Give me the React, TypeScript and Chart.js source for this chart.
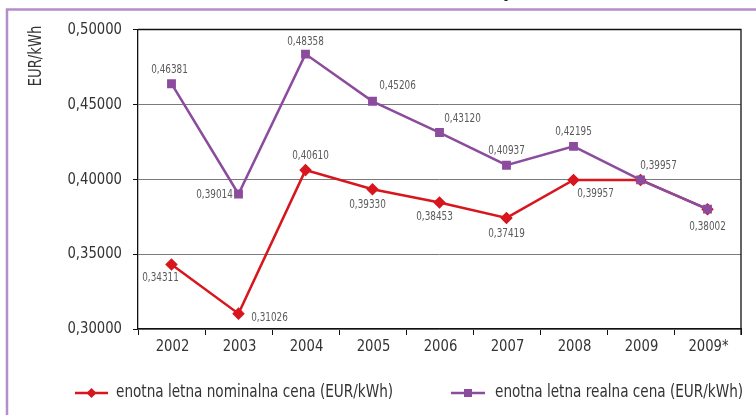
import React, { useEffect, useRef } from "react";
import { Chart, registerables } from "chart.js";

Chart.register(...registerables);

const categories = ["2002", "2003", "2004", "2005", "2006", "2007", "2008", "2009", "2009*"];
const nominalValues = [0.34311, 0.31026, 0.4061, 0.3933, 0.38453, 0.37419, 0.39957, 0.39957, 0.38002];
const realValues = [0.46381, 0.39014, 0.48358, 0.45206, 0.4312, 0.40937, 0.42195, 0.39957, 0.38002];
const nominalLabel = "enotna letna nominalna cena (EUR/kWh)";
const realLabel = "enotna letna realna cena (EUR/kWh)";
const yTitle = "EUR/kWh";
const yMin = 0.3;
const yMax = 0.5;
const yStep = 0.05;

// label offsets [dx, dy] relative to point (style only); null = no label
const nominalLabelOffsets: ([number, number] | null)[] = [
  [-11, 13], [31, 4], [5, -14], [-5, 16], [-5, 14], [0, 16], [22, 14], null, null,
];
const realLabelOffsets: ([number, number] | null)[] = [
  [-2, -14], [-24, 1], [0, -12], [25, -15], [23, -14], [0, -14], [0, -15], [18, -14], [0, 18],
];

const RED = "#d7161e";
const PURPLE = "#8c4c9e";
const FONT = "'DejaVu Sans Condensed', 'Liberation Sans Narrow', sans-serif";

const fmt = (v: number) => v.toFixed(5).replace(".", ",");

function drawText(ctx: any, text: string, x: number, y: number, align: string, sx: number) {
  ctx.save();
  ctx.translate(x, y);
  ctx.scale(sx, 1);
  ctx.textAlign = align;
  ctx.fillText(text, 0, 0);
  ctx.restore();
}

const decorPlugin = {
  id: "decor",
  beforeDraw(chart: any) {
    const ctx = chart.ctx;
    ctx.save();
    ctx.fillStyle = "#ffffff";
    ctx.fillRect(0, 0, chart.width, chart.height);
    // frame
    ctx.strokeStyle = "#b68cca";
    ctx.lineWidth = 2.5;
    ctx.beginPath();
    ctx.moveTo(7, chart.height);
    ctx.lineTo(7, 9.5);
    ctx.lineTo(chart.width, 9.5);
    ctx.stroke();
    // cut-off title descender
    ctx.fillStyle = "#222";
    ctx.font = "bold 16px " + FONT;
    ctx.textBaseline = "alphabetic";
    ctx.fillText("y", 503, -2.5);
    ctx.restore();
  },
  afterDraw(chart: any) {
    const ctx = chart.ctx;
    const area = chart.chartArea;
    ctx.save();
    // top & right borders of plot
    ctx.strokeStyle = "#111";
    ctx.lineWidth = 1.3;
    ctx.beginPath();
    ctx.moveTo(area.left, area.top);
    ctx.lineTo(area.right, area.top);
    ctx.lineTo(area.right, area.bottom + 6);
    ctx.stroke();

    ctx.textBaseline = "middle";

    // axis tick labels
    ctx.font = "16.5px " + FONT;
    ctx.fillStyle = "#333";
    const ys = chart.scales.y;
    ys.ticks.forEach((t: any) => {
      drawText(ctx, fmt(t.value), 122, ys.getPixelForValue(t.value), "right", 0.89);
    });
    const xs = chart.scales.x;
    categories.forEach((c, i) => {
      drawText(ctx, c, xs.getPixelForValue(i) + 1, area.bottom + 18, "center", 0.89);
    });

    // data labels
    ctx.font = "12px " + FONT;
    ctx.fillStyle = "#5a5a5a";
    const drawLabels = (dsIndex: number, values: number[], offs: ([number, number] | null)[]) => {
      const meta = chart.getDatasetMeta(dsIndex);
      meta.data.forEach((pt: any, i: number) => {
        const o = offs[i];
        if (!o) return;
        drawText(ctx, fmt(values[i]), pt.x + o[0], pt.y + o[1], "center", 0.82);
      });
    };
    drawLabels(0, nominalValues, nominalLabelOffsets);
    drawLabels(1, realValues, realLabelOffsets);

    // y title
    ctx.save();
    ctx.translate(37, 56);
    ctx.rotate(-Math.PI / 2);
    ctx.font = "17px " + FONT;
    ctx.fillStyle = "#333";
    drawText(ctx, yTitle, 0, 0, "center", 0.86);
    ctx.restore();

    // legend
    const ly = 393;
    ctx.lineWidth = 2.5;
    ctx.strokeStyle = RED;
    ctx.beginPath();
    ctx.moveTo(75, ly);
    ctx.lineTo(108, ly);
    ctx.stroke();
    ctx.fillStyle = RED;
    ctx.beginPath();
    ctx.moveTo(91.5, ly - 5);
    ctx.lineTo(96.5, ly);
    ctx.lineTo(91.5, ly + 5);
    ctx.lineTo(86.5, ly);
    ctx.closePath();
    ctx.fill();

    ctx.strokeStyle = PURPLE;
    ctx.beginPath();
    ctx.moveTo(451, ly);
    ctx.lineTo(485, ly);
    ctx.stroke();
    ctx.fillStyle = PURPLE;
    ctx.fillRect(464, ly - 4, 8, 8);

    ctx.font = "17px " + FONT;
    ctx.fillStyle = "#333";
    drawText(ctx, nominalLabel, 116, ly, "left", 0.89);
    drawText(ctx, realLabel, 495, ly, "left", 0.89);
    ctx.restore();
  },
};

export default function App() {
  const canvasRef = useRef<HTMLCanvasElement | null>(null);

  useEffect(() => {
    document.body.style.margin = "0";
    const canvas = canvasRef.current;
    if (!canvas) return;
    const chart = new Chart(canvas, {
      type: "line",
      data: {
        labels: categories,
        datasets: [
          {
            label: nominalLabel,
            data: nominalValues,
            borderColor: RED,
            backgroundColor: RED,
            borderWidth: 2.5,
            pointStyle: "rectRot",
            pointRadius: 4.5,
            pointHoverRadius: 4.5,
            tension: 0,
            order: 2,
          },
          {
            label: realLabel,
            data: realValues,
            borderColor: PURPLE,
            backgroundColor: PURPLE,
            borderWidth: 2.5,
            pointStyle: "rect",
            pointRadius: 4.5,
            pointHoverRadius: 4.5,
            tension: 0,
            order: 1,
          },
        ],
      },
      options: {
        animation: false,
        responsive: false,
        devicePixelRatio: 1,
        layout: { padding: { left: 0, right: 15, top: 29.5, bottom: 46 } },
        plugins: {
          legend: { display: false },
          tooltip: { enabled: false },
          title: { display: false },
        },
        scales: {
          x: {
            type: "category",
            offset: true,
            grid: {
              display: true,
              offset: true,
              drawOnChartArea: false,
              drawTicks: true,
              tickLength: 6,
              color: "#111",
              tickColor: "#111",
            },
            border: { display: true, color: "#111", width: 1.3 },
            ticks: {
              color: "rgba(0,0,0,0)",
              font: { family: FONT, size: 16 },
              padding: 4,
              maxRotation: 0,
            },
            afterFit: (s: any) => {
              s.height = 40;
            },
          },
          y: {
            min: yMin,
            max: yMax,
            grid: {
              color: "#7a7a7a",
              lineWidth: 1,
              tickLength: 5,
              tickColor: "#111",
            },
            border: { display: true, color: "#111", width: 1.3 },
            ticks: {
              stepSize: yStep,
              color: "rgba(0,0,0,0)",
              font: { family: FONT, size: 16 },
              padding: 11,
              callback: (v: any) => fmt(Number(v)),
            },
            afterFit: (s: any) => {
              s.width = 138;
            },
          },
        },
      },
      plugins: [decorPlugin],
    });
    return () => chart.destroy();
  }, []);

  return (
    <div style={{ width: 756, height: 415 }}>
      <canvas ref={canvasRef} width={756} height={415} style={{ display: "block" }} />
    </div>
  );
}
